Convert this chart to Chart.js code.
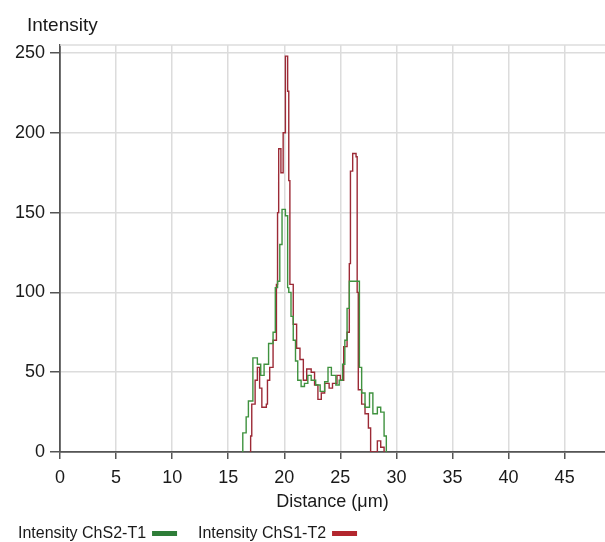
<!DOCTYPE html>
<html>
<head>
<meta charset="utf-8">
<script src="https://cdn.jsdelivr.net/npm/chart.js@4.4.0/dist/chart.umd.min.js"></script>
<style>
    html, body { margin: 0; padding: 0; background: #fff; }
    #wrap { width: 605px; height: 542px; }
</style>
</head>
<body>
<div id="wrap"><canvas id="profile-chart" width="605" height="542"></canvas></div>
<script>
// ----- DATA -----
const seriesNames = ['Intensity ChS2-T1', 'Intensity ChS1-T2'];
const xTickValues = [0, 5, 10, 15, 20, 25, 30, 35, 40, 45];
const yTickValues = [0, 50, 100, 150, 200, 250];

// ChS2-T1 (green)
const greenDistance = [16.3, 16.3, 16.6, 16.8, 17.2, 17.6, 17.9, 18.2, 18.6, 19.0, 19.2, 19.4, 19.6, 19.8,
    20.1, 20.3, 20.4, 20.6, 20.8, 21.0, 21.2, 21.5, 21.8, 22.1, 22.4, 22.8, 23.2, 23.6, 23.9, 24.2, 24.6,
    24.9, 25.2, 25.4, 25.6, 25.8, 26.6, 26.7, 26.9, 27.2, 27.6, 27.9, 28.3, 28.6, 28.9, 29.1];
const greenIntensity = [0, 12, 22, 32, 59, 55, 48, 55, 68, 75, 103, 107, 130, 152,
    148, 103, 100, 85, 70, 57, 45, 41, 43, 48, 45, 42, 38, 44, 53, 48, 42,
    45, 55, 70, 90, 107, 107, 53, 37, 28, 37, 24, 28, 25, 10, 0];

// ChS1-T2 (red)
const redDistance = [16.9, 17.0, 17.1, 17.4, 17.6, 17.8, 18.0, 18.4, 18.5, 18.7, 19.0, 19.3, 19.4, 19.5,
    19.7, 19.9, 20.1, 20.3, 20.4, 20.5, 20.8, 21.1, 21.4, 21.7, 22.0, 22.4, 22.7, 23.0, 23.3, 23.6, 24.0,
    24.3, 24.7, 25.0, 25.3, 25.6, 25.8, 25.9, 26.1, 26.4, 26.5, 26.6, 26.9, 27.2, 27.5, 27.7, 28.3, 28.6, 28.9];
const redIntensity = [0, 10, 30, 45, 53, 40, 28, 30, 45, 53, 70, 105, 150, 190,
    175, 200, 248, 226, 170, 105, 80, 65, 58, 45, 52, 50, 42, 33, 37, 43, 40,
    43, 48, 45, 66, 75, 118, 176, 187, 185, 100, 39, 30, 24, 15, 0, 7, 3, 0];

// ----- HELPERS -----
const FONT = '"Liberation Sans", Arial, sans-serif';

function toPoints(xs, ys) {
    return xs.map((x, i) => ({ x: x, y: ys[i] }));
}

const decorPlugin = {
    id: 'decor',
    beforeDatasetsDraw(chart) {
        const { ctx, chartArea } = chart;
        ctx.save();
        ctx.strokeStyle = '#dcdcdc';
        ctx.lineWidth = 1.5;
        ctx.beginPath();
        ctx.moveTo(chartArea.left, chartArea.top);
        ctx.lineTo(chartArea.right, chartArea.top);
        ctx.stroke();
        ctx.restore();
    },
    afterDraw(chart) {
        const ctx = chart.ctx;
        ctx.save();
        ctx.fillStyle = '#1a1a1a';
        ctx.textBaseline = 'alphabetic';
        ctx.textAlign = 'left';
        ctx.font = '19px ' + FONT;
        ctx.fillText('Intensity', 27, 31);

        // legend: text first, colour bar after it
        ctx.font = '16px ' + FONT;
        const colors = ['#2e7d38', '#b3262e'];
        const starts = [18, 198];
        seriesNames.forEach((name, i) => {
            ctx.fillStyle = '#1a1a1a';
            ctx.fillText(name, starts[i], 538);
            const w = ctx.measureText(name).width;
            ctx.fillStyle = colors[i];
            ctx.fillRect(starts[i] + w + 6, 531, 25, 5);
        });
        ctx.restore();
    }
};

// ----- CHART -----
const ctx = document.getElementById('profile-chart').getContext('2d');
new Chart(ctx, {
    type: 'line',
    data: {
        datasets: [
            {
                label: seriesNames[0],
                data: toPoints(greenDistance, greenIntensity),
                borderColor: '#3f923f',
                borderWidth: 1.4,
                stepped: true,
                pointRadius: 0,
                fill: false
            },
            {
                label: seriesNames[1],
                data: toPoints(redDistance, redIntensity),
                borderColor: '#9c2a36',
                borderWidth: 1.4,
                stepped: true,
                pointRadius: 0,
                fill: false
            }
        ]
    },
    options: {
        responsive: false,
        animation: false,
        layout: { padding: { top: 45, right: 0, left: 0, bottom: 25 } },
        plugins: {
            legend: { display: false },
            tooltip: { enabled: false }
        },
        scales: {
            x: {
                type: 'linear',
                min: 0,
                max: 48.6,
                afterBuildTicks: (scale) => { scale.ticks = xTickValues.map(v => ({ value: v })); },
                afterFit: (scale) => { scale.height = 65; },
                ticks: { color: '#1a1a1a', font: { family: FONT, size: 18 }, padding: 8, maxRotation: 0 },
                grid: { color: '#dcdcdc', lineWidth: 1.5, tickColor: '#555', tickLength: 7 },
                border: { color: '#555', width: 1.8 },
                title: {
                    display: true,
                    text: 'Distance (μm)',
                    color: '#1a1a1a',
                    font: { family: FONT, size: 18 },
                    padding: { top: 0, bottom: 4 }
                }
            },
            y: {
                type: 'linear',
                min: 0,
                max: 255,
                afterBuildTicks: (scale) => { scale.ticks = yTickValues.map(v => ({ value: v })); },
                afterFit: (scale) => { scale.width = 60; },
                ticks: { color: '#1a1a1a', font: { family: FONT, size: 18 }, padding: 5 },
                grid: { color: '#dcdcdc', lineWidth: 1.5, tickColor: '#555', tickLength: 10 },
                border: { color: '#555', width: 1.8 }
            }
        }
    },
    plugins: [decorPlugin]
});
</script>
</body>
</html>
